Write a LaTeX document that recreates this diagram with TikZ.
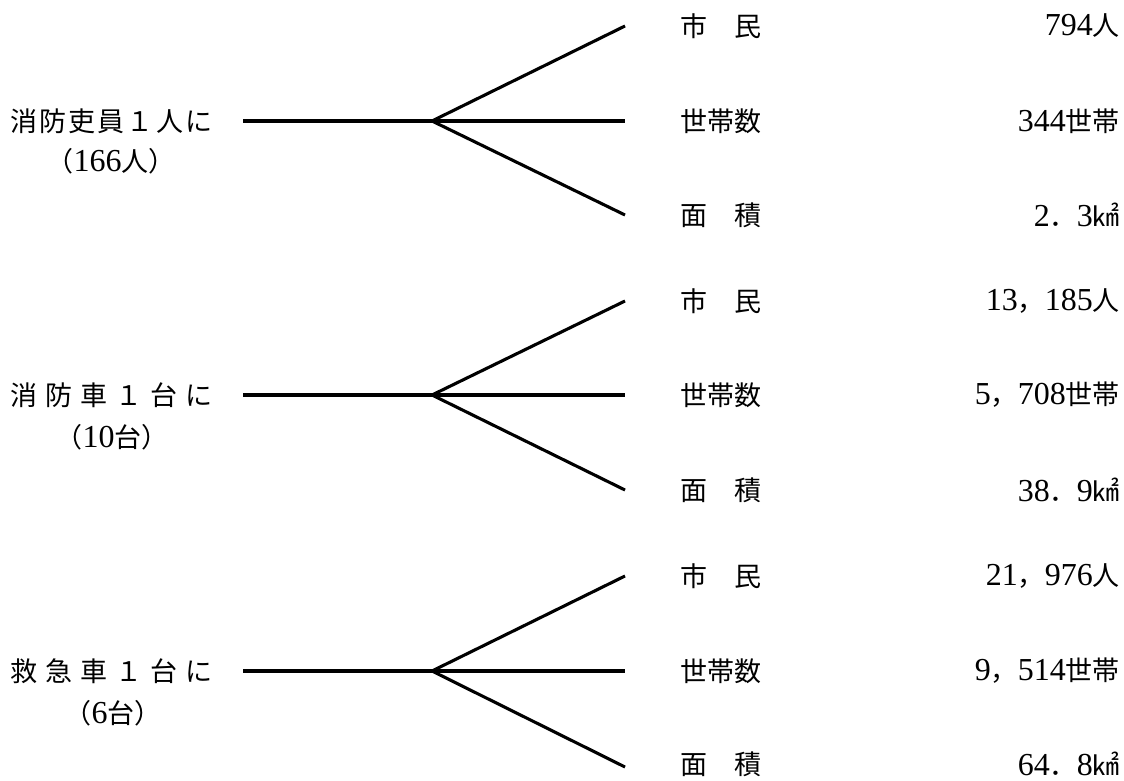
\documentclass[tikz,border=0pt]{standalone}
\usepackage{fontspec}
\newfontfamily\jp{Noto Sans CJK JP}
\newfontfamily\num{Liberation Serif}
\newcommand{\dg}[1]{{\num\fontsize{32}{32}\selectfont #1}}
\usetikzlibrary{positioning}

\tikzset{
    branch/.style={line width=3.1pt},
    txt/.style={inner sep=0pt, font=\jp\fontsize{27}{32}\selectfont},
    lead/.style={txt, anchor=west},
    val/.style={txt, anchor=east}
}

\begin{document}
\begin{tikzpicture}[x=1pt,y=-1pt]
    \useasboundingbox (0,0) rectangle (1124,781);

    % Firefighters
    \begin{scope}[shift={(0,121)}]
        \node[lead] (g1) at (10,0) {\makebox[202pt][s]{消\hfill 防\hfill 吏\hfill 員\hfill １\hfill 人\hfill に}};
        \node[txt] (n1) at (111,40) {（\dg{166}人）};
        \coordinate (s1) at (243,0);
        \coordinate (j1) at (432,0);
        \coordinate (t1) at (625,-95);
        \coordinate (m1) at (625,0);
        \coordinate (b1) at (625,94);
        \draw[branch] (s1) -- (j1);
        \draw[branch] (j1) -- (t1);
        \draw[branch] (j1) -- (m1);
        \draw[branch] (j1) -- (b1);
        \node[lead] (k1a) at (680,-95) {市　民};
        \node[lead] (k1b) at (680,0) {世帯数};
        \node[lead] (k1c) at (680,94) {面　積};
        \node[val] (v1a) at (1120,-95) {\dg{794}人};
        \node[val] (v1b) at (1120,0) {\dg{344}世帯};
        \node[val] (v1c) at (1120,94) {\dg{2}．\dg{3}㎢};
    \end{scope}

    % Fire engines
    \begin{scope}[shift={(0,395)}]
        \node[lead] (g2) at (10,0) {\makebox[202pt][s]{消\hfill 防\hfill 車\hfill １\hfill 台\hfill に}};
        \node[txt] (n2) at (112,42) {（\dg{10}台）};
        \coordinate (s2) at (243,0);
        \coordinate (j2) at (432,0);
        \coordinate (t2) at (625,-94);
        \coordinate (m2) at (625,0);
        \coordinate (b2) at (625,95);
        \draw[branch] (s2) -- (j2);
        \draw[branch] (j2) -- (t2);
        \draw[branch] (j2) -- (m2);
        \draw[branch] (j2) -- (b2);
        \node[lead] (k2a) at (680,-94) {市　民};
        \node[lead] (k2b) at (680,0) {世帯数};
        \node[lead] (k2c) at (680,95) {面　積};
        \node[val] (v2a) at (1120,-94) {\dg{13}，\dg{185}人};
        \node[val] (v2b) at (1120,0) {\dg{5}，\dg{708}世帯};
        \node[val] (v2c) at (1120,95) {\dg{38}．\dg{9}㎢};
    \end{scope}

    % Ambulances
    \begin{scope}[shift={(0,671)}]
        \node[lead] (g3) at (10,0) {\makebox[202pt][s]{救\hfill 急\hfill 車\hfill １\hfill 台\hfill に}};
        \node[txt] (n3) at (113,42) {（\dg{6}台）};
        \coordinate (s3) at (243,0);
        \coordinate (j3) at (432,0);
        \coordinate (t3) at (625,-95);
        \coordinate (m3) at (625,0);
        \coordinate (b3) at (625,96);
        \draw[branch] (s3) -- (j3);
        \draw[branch] (j3) -- (t3);
        \draw[branch] (j3) -- (m3);
        \draw[branch] (j3) -- (b3);
        \node[lead] (k3a) at (680,-95) {市　民};
        \node[lead] (k3b) at (680,0) {世帯数};
        \node[lead] (k3c) at (680,93) {面　積};
        \node[val] (v3a) at (1120,-95) {\dg{21}，\dg{976}人};
        \node[val] (v3b) at (1120,0) {\dg{9}，\dg{514}世帯};
        \node[val] (v3c) at (1120,93) {\dg{64}．\dg{8}㎢};
    \end{scope}
\end{tikzpicture}
\end{document}
